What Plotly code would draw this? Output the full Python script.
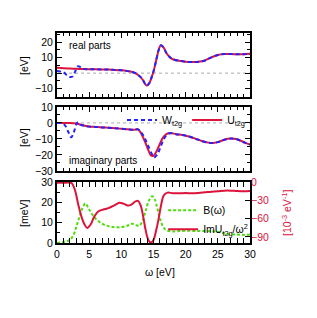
import plotly.graph_objects as go
from plotly.subplots import make_subplots

# ---------------- data ----------------
# Panel 1: real parts [eV]
w_re_u = [0, 1, 2, 3, 4, 5, 6, 7, 8, 9, 10, 11, 11.6, 12.1, 12.6, 13.0, 13.4, 13.9, 14.3, 14.7,
          15.0, 15.4, 15.8, 16.1, 16.5, 17.0, 17.5, 18.0, 19.0, 20.0, 21.0, 22.0, 23.0, 24.0,
          25.0, 26.0, 27.0, 28.0, 29.0, 30.0]
re_u = [3.5, 3.2, 3.0, 2.8, 2.6, 2.5, 2.45, 2.4, 2.3, 2.1, 1.8, 1.3, 0.9, 0.1, -1.2, -2.6, -4.8, -8.0,
        -6.8, -2.8, 1.0, 8.0, 15.0, 18.0, 17.0, 13.0, 10.5, 9.0, 8.0, 7.4, 7.2, 7.3, 8.2, 10.2,
        11.8, 12.4, 12.4, 12.2, 12.2, 12.5]
w_re_w = [0, 0.5, 1.0, 1.5, 2.0, 2.4, 2.8, 3.2, 3.5, 3.8, 4.3, 5, 6, 7, 8, 9, 10, 11, 11.6, 12.1,
          12.6, 13.0, 13.4, 13.9, 14.3, 14.7, 15.0, 15.4, 15.8, 16.1, 16.5, 17.0, 17.5, 18.0,
          19.0, 20.0, 21.0, 22.0, 23.0, 24.0, 25.0, 26.0, 27.0, 28.0, 29.0, 30.0]
re_w = [1.3, 1.1, 0.6, -1.2, -2.5, -2.2, 0.8, 4.3, 4.2, 3.2, 2.6, 2.6, 2.5, 2.4, 2.3, 2.1, 1.8, 1.3,
        0.9, 0.1, -1.2, -2.6, -4.8, -8.0, -6.8, -2.8, 1.0, 8.0, 15.0, 18.0, 17.0, 13.0, 10.5,
        9.0, 8.0, 7.4, 7.2, 7.3, 8.2, 10.2, 11.8, 12.4, 12.4, 12.2, 12.2, 12.5]

# Panel 2: imaginary parts [eV]
w_im_u = [0, 1, 2, 3, 4, 5, 6, 7, 8, 9, 10, 11, 12, 12.6, 13.2, 13.7, 14.2, 14.6, 15.0, 15.5,
          16.0, 16.5, 17.0, 17.6, 18.5, 19.5, 20.5, 21.5, 22.5, 23.5, 24.3, 25.0, 26.0, 27.0,
          27.8, 28.5, 29.3, 30.0]
im_u = [0.0, 0.0, 0.0, -0.4, -1.5, -2.2, -2.5, -2.8, -3.0, -3.3, -3.6, -4.0, -4.3, -4.0, -7.5,
        -12.0, -17.0, -20.3, -20.5, -17.5, -13.0, -9.0, -7.0, -6.3, -7.0, -7.5, -8.5, -9.8,
        -11.3, -12.3, -12.5, -12.0, -10.5, -9.8, -10.0, -11.0, -12.5, -13.5]
w_im_w = [0, 0.8, 1.3, 1.8, 2.2, 2.6, 3.0, 3.3, 3.7, 4.2, 5, 6, 7, 8, 9, 10, 11, 12, 12.6, 13.2,
          13.7, 14.2, 14.7, 15.1, 15.6, 16.0, 16.5, 17.0, 17.6, 18.5, 19.5, 20.5, 21.5, 22.5,
          23.5, 24.3, 25.0, 26.0, 27.0, 27.8, 28.5, 29.3, 30.0]
im_w = [0.0, -0.3, -1.8, -6.0, -9.0, -6.0, -1.0, 0.4, -1.0, -1.8, -2.3, -2.5, -2.8, -3.0, -3.3,
        -3.6, -4.0, -4.3, -4.0, -6.5, -10.0, -14.5, -19.0, -21.5, -19.5, -16.0, -11.0, -7.8,
        -6.4, -7.0, -7.5, -8.5, -9.8, -11.3, -12.3, -12.5, -12.0, -10.5, -9.8, -10.0, -11.0,
        -12.5, -13.5]

# Panel 3: B(omega) [meV]
w_b = [0, 1, 2, 2.5, 3, 3.5, 4, 4.4, 5, 5.5, 6, 7, 8, 9, 10, 11, 11.7, 12.3, 12.8, 13.3, 13.8,
       14.3, 14.8, 15.2, 15.6, 16.0, 16.5, 17.0, 18, 19, 20, 22, 24, 25, 26, 27, 28, 29, 30]
b_val = [0.0, 0.5, 1.5, 3.5, 8.0, 13.0, 17.5, 19.5, 16.5, 14.0, 12.0, 9.5, 8.3, 7.8, 7.8, 8.6,
         9.5, 8.8, 8.5, 11.0, 16.0, 21.0, 23.0, 21.5, 17.0, 12.0, 8.0, 6.3, 5.7, 5.9, 6.0, 5.9,
         5.8, 5.5, 4.7, 4.3, 4.2, 4.0, 4.2]

# Panel 3: Im U / omega^2 [10^-3 eV^-1] (right axis)
w_imu2 = [0, 1, 2, 2.3, 2.8, 3.3, 3.8, 4.3, 4.7, 5.2, 5.8, 6.4, 7.2, 8, 9, 9.7, 10.4, 11, 11.5,
          12.2, 12.6, 13.0, 13.4, 13.8, 14.2, 14.6, 15.0, 15.4, 15.8, 16.2, 16.6, 17.2, 18, 19,
          20, 21, 22, 23, 24, 25, 26, 27, 28, 29, 30]
imu2 = [-1.0, -1.0, -1.0, -2.0, -13.3, -36.7, -56.7, -70.0, -75.3, -70.0, -56.7, -48.3, -45.0,
        -42.7, -37.7, -34.0, -35.7, -38.3, -37.3, -31.7, -30.7, -38.3, -56.7, -80.0, -95.0,
        -99.3, -95.0, -80.0, -60.0, -36.7, -21.7, -17.3, -18.3, -18.3, -18.0, -18.3, -17.7,
        -16.7, -15.7, -15.0, -14.0, -14.0, -14.7, -15.0, -14.7]

x_ticks = [0, 5, 10, 15, 20, 25, 30]

# ---------------- styling ----------------
RED = "#dc143c"
BLUE = "#2323ff"
GREEN = "#4fdc0f"
FONT = "Liberation Sans, Arial, sans-serif"
FS = 10.5
FT = 10

fig = make_subplots(rows=3, cols=1, shared_xaxes=False, vertical_spacing=0.05,
                    specs=[[{}], [{}], [{"secondary_y": True}]])

# panel 1 (row 1 -> x/y)
fig.add_trace(go.Scatter(x=w_re_u, y=re_u, mode="lines", line=dict(color=RED, width=2, shape="spline"),
                         showlegend=False), row=1, col=1)
fig.add_trace(go.Scatter(x=w_re_w, y=re_w, mode="lines",
                         line=dict(color=BLUE, width=2, dash="4px,3px", shape="spline"),
                         showlegend=False), row=1, col=1)
# panel 2 (row 2 -> x2/y2)
fig.add_trace(go.Scatter(x=w_im_u, y=im_u, mode="lines", name="U<sub>t2g</sub>",
                         line=dict(color=RED, width=2, shape="spline"),
                         legend="legend", legendrank=2), row=2, col=1)
fig.add_trace(go.Scatter(x=w_im_w, y=im_w, mode="lines", name="W<sub>t2g</sub>",
                         line=dict(color=BLUE, width=2, dash="4px,3px", shape="spline"),
                         legend="legend", legendrank=1), row=2, col=1)
# panel 3 (row 3 -> x3/y3 and secondary y4)
fig.add_trace(go.Scatter(x=w_b, y=b_val, mode="lines", name="B(ω)",
                         line=dict(color=GREEN, width=2, dash="3px,2px", shape="spline"),
                         legend="legend2", legendrank=1), row=3, col=1, secondary_y=False)
fig.add_trace(go.Scatter(x=w_imu2, y=imu2, mode="lines", name="ImU<sub>t2g</sub>/ω<sup>2</sup>",
                         line=dict(color=RED, width=2, shape="spline"),
                         legend="legend2", legendrank=2), row=3, col=1, secondary_y=True)

axis_common = dict(showline=True, linewidth=2, linecolor="black", ticks="inside", ticklen=5,
                   tickwidth=1, tickcolor="black", showgrid=False, zeroline=False,
                   automargin=False, tickfont=dict(size=FS, color="black"))
xcommon = dict(axis_common, range=[0, 30], tickvals=x_ticks, mirror="allticks",
               minor=dict(ticks="inside", dtick=1, ticklen=3, tickcolor="black", showgrid=False))
yminor = dict(ticks="inside", dtick=5, ticklen=3, tickcolor="black")

title_font = dict(size=FS, color="black")

fig.update_layout(
    width=309, height=310, autosize=False,
    margin=dict(l=49, r=67, t=25, b=75, autoexpand=False),
    paper_bgcolor="white", plot_bgcolor="white",
    font=dict(family=FONT, size=FS, color="black"),
    xaxis=dict(xcommon, domain=[0, 1], showticklabels=False),
    xaxis2=dict(xcommon, domain=[0, 1], showticklabels=False),
    xaxis3=dict(xcommon, domain=[0, 1]),
    yaxis=dict(axis_common, domain=[0.695, 1], range=[-15.5, 26], tickvals=[-10, 0, 10, 20],
               mirror="allticks", minor=yminor),
    yaxis2=dict(axis_common, domain=[0.343, 0.648], range=[-30, 10], dtick=10, mirror="allticks",
                minor=yminor),
    yaxis3=dict(axis_common, domain=[0, 0.29], range=[0, 30], dtick=10, mirror=True,
                minor=yminor),
    yaxis4=dict(axis_common, domain=[0, 0.29], range=[-100, 0], tick0=0, dtick=30, showline=False,
                tickfont=dict(size=FS, color=RED)),
    legend=dict(orientation="h", x=1.0, xanchor="right", y=0.655, yanchor="top",
                bgcolor="rgba(0,0,0,0)", font=dict(size=FS), itemwidth=30,
                tracegroupgap=0, traceorder="normal"),
    legend2=dict(orientation="v", x=0.55, xanchor="left", y=0.225, yanchor="top",
                 bgcolor="rgba(0,0,0,0)", font=dict(size=FS), itemwidth=30,
                 tracegroupgap=0, traceorder="normal"),
    shapes=[
        dict(type="line", xref="x", yref="y", x0=0, x1=30, y0=0, y1=0, layer="below",
             line=dict(color="#aaaaaa", width=1, dash="dot")),
        dict(type="line", xref="x2", yref="y2", x0=0, x1=30, y0=0, y1=0, layer="below",
             line=dict(color="#aaaaaa", width=1, dash="dot")),
    ],
    annotations=[
        dict(text="real parts", xref="x domain", yref="y domain", x=0.05, y=0.81,
             xanchor="left", yanchor="middle", showarrow=False, font=dict(size=FT)),
        dict(text="imaginary parts", xref="x2 domain", yref="y2 domain", x=0.05, y=0.17,
             xanchor="left", yanchor="middle", showarrow=False, font=dict(size=FT)),
        # axis titles
        dict(text="[eV]", xref="paper", yref="paper", x=-0.171, y=0.848, textangle=-90,
             xanchor="center", yanchor="middle", showarrow=False, font=title_font),
        dict(text="[eV]", xref="paper", yref="paper", x=-0.171, y=0.505, textangle=-90,
             xanchor="center", yanchor="middle", showarrow=False, font=title_font),
        dict(text="[meV]", xref="paper", yref="paper", x=-0.171, y=0.143, textangle=-90,
             xanchor="center", yanchor="middle", showarrow=False, font=title_font),
        dict(text="[10<sup>-3</sup> eV<sup>-1</sup>]", xref="paper", yref="paper", x=1.192,
             y=0.143, textangle=-90, xanchor="center", yanchor="middle", showarrow=False,
             font=dict(size=FS, color=RED)),
        dict(text="ω [eV]", xref="paper", yref="paper", x=0.536, y=-0.137,
             xanchor="center", yanchor="middle", showarrow=False, font=title_font),
    ],
)

fig.write_html("out.html")
